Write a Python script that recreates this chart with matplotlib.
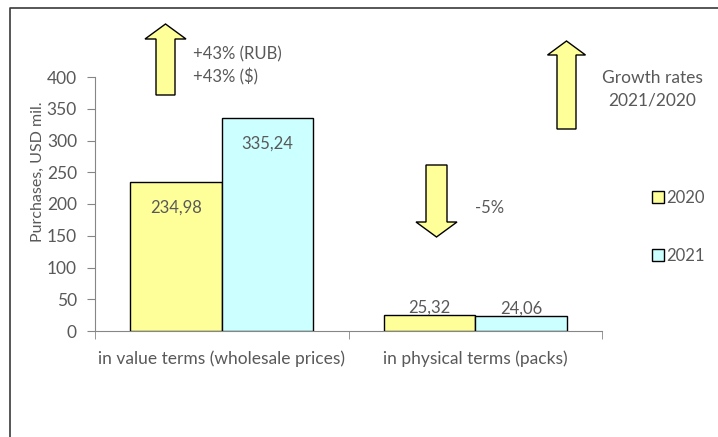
import numpy as np
import matplotlib.pyplot as plt
from matplotlib.patches import Polygon
from matplotlib.lines import Line2D

plt.rcParams['font.family'] = ['Lato', 'DejaVu Sans']

categories = ['in value terms (wholesale prices)', 'in physical terms (packs)']
years = ['2020', '2021']
v2020 = [234.98, 25.32]
v2021 = [335.24, 24.06]
labels2020 = ['234,98', '25,32']
labels2021 = ['335,24', '24,06']
yticks = [0, 50, 100, 150, 200, 250, 300, 350, 400]

col2020 = '#ffff99'
col2021 = '#ccffff'
grey = '#595959'
axis_col = '#868686'

W, H = 718, 437
fig = plt.figure(figsize=(W / 100, H / 100), dpi=100)

ax = fig.add_axes([95 / W, (H - 331) / H, 507 / W, 254 / H])
ax.patch.set_visible(False)
x = np.arange(len(categories))
bw = 0.36
b1 = ax.bar(x - bw / 2, v2020, bw, color=col2020, edgecolor='black', lw=1, label=years[0])
b2 = ax.bar(x + bw / 2, v2021, bw, color=col2021, edgecolor='black', lw=1, label=years[1])

for bars, labs in ((b1, labels2020), (b2, labels2021)):
    for rect, lab in zip(bars, labs):
        h = rect.get_height()
        y = h - 40 if h > 100 else h + 11
        ax.text(rect.get_x() + rect.get_width() / 2, y, lab, ha='center', va='center',
                fontsize=12, color=grey)

ax.set_xlim(-0.5, 1.5)
ax.set_ylim(0, 400)
ax.set_yticks(yticks)
ax.set_xticks(x)
ax.set_xticklabels(categories)
ax.set_xticks([-0.5, 0.5, 1.5], minor=True)
ax.tick_params(axis='x', which='major', length=0, pad=14, labelsize=12.5, labelcolor=grey)
ax.tick_params(axis='x', which='minor', length=6, color=axis_col, direction='out')
ax.tick_params(axis='y', length=6, color=axis_col, labelsize=12.5, labelcolor=grey, pad=7)
for s in ('top', 'right'):
    ax.spines[s].set_visible(False)
for s in ('left', 'bottom'):
    ax.spines[s].set_color(axis_col)
ax.spines['bottom'].set_zorder(0.5)

fig.text(38 / W, 1 - 172 / H, 'Purchases, USD mil.', rotation=90, ha='center', va='center',
         fontsize=11.5, color=grey)

# overlay in pixel units for the frame, arrows and notes
ov = fig.add_axes([0, 0, 1, 1])
ov.set_xlim(0, W)
ov.set_ylim(H, 0)
ov.axis('off')
ov.patch.set_visible(False)
ov.plot([10, 10, W + 5], [H + 5, 8, 8], color='#3a3a3a', lw=1.2)

def block_arrow(xc, tip, base, bottom, shaft_w, head_w):
    pts = [(xc, tip), (xc + head_w / 2, base), (xc + shaft_w / 2, base),
           (xc + shaft_w / 2, bottom), (xc - shaft_w / 2, bottom),
           (xc - shaft_w / 2, base), (xc - head_w / 2, base)]
    ov.add_patch(Polygon(pts, closed=True, facecolor=col2020, edgecolor='black', lw=1))

block_arrow(165.5, 24, 39, 95, 19, 41)
block_arrow(566.5, 41, 55, 129, 19, 38)
block_arrow(436.5, 237, 222, 165, 21, 41)

ov.text(193, 54, '+43% (RUB)', ha='left', va='center', fontsize=12, color=grey)
ov.text(193, 77, '+43% ($)', ha='left', va='center', fontsize=12, color=grey)
ov.text(652, 78, 'Growth rates', ha='center', va='center', fontsize=12.5, color=grey)
ov.text(652, 101, '2021/2020', ha='center', va='center', fontsize=12.5, color=grey)
ov.text(475, 208, '-5%', ha='left', va='center', fontsize=12, color=grey)

handles = [Line2D([], [], ls='none', marker='s', markersize=9, markerfacecolor=c,
                  markeredgecolor='black', markeredgewidth=1) for c in (col2020, col2021)]
leg = fig.legend(handles, years, loc='center left', bbox_to_anchor=(644 / W, 1 - 227 / H),
                 frameon=False, fontsize=12, labelspacing=2.55, handlelength=0.7,
                 handletextpad=0.15, borderpad=0)
for t in leg.get_texts():
    t.set_color(grey)

fig.savefig('out.png', dpi=100)
